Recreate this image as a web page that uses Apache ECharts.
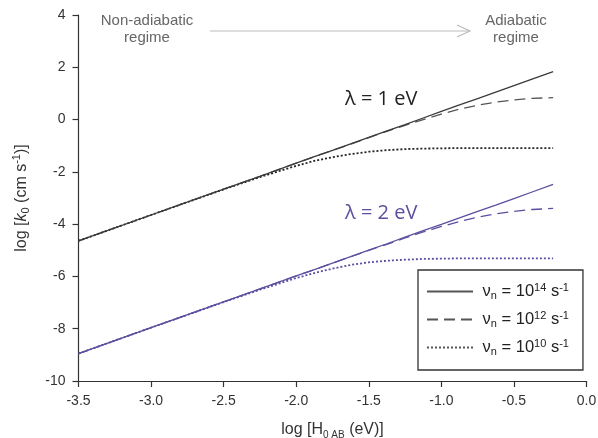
<!DOCTYPE html>
<html>
<head>
<meta charset="utf-8">
<script src="https://cdn.jsdelivr.net/npm/echarts@6/dist/echarts.min.js"></script>
<style>
  html, body { margin: 0; padding: 0; background: #fff; }
  #chart { width: 598px; height: 438px; }
</style>
</head>
<body>
<div id="chart"></div>
<script>
// log of electronic coupling, log [H0AB (eV)]
const logH = [-3.5, -3.0, -2.5, -2.25, -2.0, -1.875, -1.75, -1.625, -1.5, -1.375, -1.25,
              -1.125, -1.0, -0.875, -0.75, -0.625, -0.5, -0.375, -0.23];

// log k0 for reorganization energy λ = 1 eV, three nuclear frequencies
const lam1_nu14 = [-4.64, -3.65, -2.66, -2.17, -1.67, -1.42, -1.18, -0.93, -0.68, -0.43, -0.19,
                   0.06, 0.31, 0.56, 0.80, 1.05, 1.30, 1.55, 1.83];
const lam1_nu12 = [-4.64, -3.65, -2.66, -2.17, -1.67, -1.42, -1.18, -0.94, -0.69, -0.45, -0.22,
                   0.00, 0.21, 0.40, 0.55, 0.67, 0.75, 0.81, 0.84];
const lam1_nu10 = [-4.64, -3.65, -2.67, -2.20, -1.77, -1.58, -1.44, -1.32, -1.23, -1.17, -1.13,
                   -1.11, -1.10, -1.09, -1.09, -1.09, -1.09, -1.09, -1.09];

// log k0 for λ = 2 eV
const lam2_nu14 = [-8.95, -7.96, -6.97, -6.48, -5.98, -5.74, -5.49, -5.24, -4.99, -4.75, -4.50,
                   -4.25, -4.01, -3.76, -3.51, -3.27, -3.02, -2.77, -2.48];
const lam2_nu12 = [-8.95, -7.96, -6.97, -6.48, -5.98, -5.74, -5.49, -5.25, -5.00, -4.77, -4.53,
                   -4.30, -4.09, -3.90, -3.73, -3.61, -3.51, -3.44, -3.40];
const lam2_nu10 = [-8.95, -7.96, -6.98, -6.51, -6.06, -5.87, -5.70, -5.56, -5.46, -5.40, -5.36,
                   -5.33, -5.32, -5.31, -5.31, -5.31, -5.31, -5.31, -5.31];

// axis ticks
const xTicks = [-3.5, -3.0, -2.5, -2.0, -1.5, -1.0, -0.5, 0.0];
const yTicks = [-10, -8, -6, -4, -2, 0, 2, 4];

// nuclear frequency exponents (ν_n = 10^x s^-1)
const nuExponents = ['14', '12', '10'];

const FONT = 'Liberation Sans, Arial, sans-serif';
const DARK = '#3a3a3a';
const PURPLE = '#5b4f9f';

const pairs = ys => logH.map((x, i) => [x, ys[i]]);

const dashStyles = ['solid', [11, 6], [2, 2]];
const widths = [1.3, 1.3, 1.8];

function makeSeries(name, ys, color, idx) {
  return {
    type: 'line',
    name: name,
    data: pairs(ys),
    smooth: false,
    showSymbol: false,
    symbol: 'none',
    lineStyle: { color: color, width: widths[idx], type: dashStyles[idx] },
    itemStyle: { color: color },
    z: 3 - idx
  };
}

const names = nuExponents.map(e => 'nu' + e);

const series = [
  makeSeries(names[0], lam1_nu14, DARK, 0),
  makeSeries(names[1], lam1_nu12, '#555', 1),
  makeSeries(names[2], lam1_nu10, '#222', 2),
  makeSeries(names[0], lam2_nu14, PURPLE, 0),
  makeSeries(names[1], lam2_nu12, PURPLE, 1),
  makeSeries(names[2], lam2_nu10, PURPLE, 2)
];

const chart = echarts.init(document.getElementById('chart'), null, { renderer: 'canvas' });

chart.setOption({
  backgroundColor: '#ffffff',
  animation: false,
  grid: { left: 78.5, right: 11.5, top: 15, bottom: 57, containLabel: false, outerBoundsMode: 'none' },
  xAxis: {
    type: 'value',
    min: xTicks[0],
    max: xTicks[xTicks.length - 1],
    interval: 0.5,
    splitLine: { show: false },
    axisLine: { show: true, onZero: false, lineStyle: { color: '#333', width: 1.2 } },
    axisTick: { show: true, inside: false, length: 6, lineStyle: { color: '#333', width: 1.2 } },
    axisLabel: {
      formatter: v => v.toFixed(1),
      fontFamily: FONT, fontSize: 14, color: '#333', margin: 13
    },
    name: '{t|log [H}{sub|0 AB}{t| (eV)]}',
    nameLocation: 'middle',
    nameGap: 39,
    nameTextStyle: {
      rich: {
        t: { fontFamily: FONT, fontSize: 16, color: '#333', lineHeight: 20, verticalAlign: 'middle' },
        sub: { fontFamily: FONT, fontSize: 10, color: '#333', lineHeight: 20, verticalAlign: 'bottom' }
      }
    }
  },
  yAxis: {
    type: 'value',
    min: yTicks[0],
    max: yTicks[yTicks.length - 1],
    interval: 2,
    splitLine: { show: false },
    axisLine: { show: true, onZero: false, lineStyle: { color: '#333', width: 1.2 } },
    axisTick: { show: true, inside: false, length: 6, lineStyle: { color: '#333', width: 1.2 } },
    axisLabel: { fontFamily: FONT, fontSize: 14, color: '#333', margin: 13 },
    name: '{t|log [}{i|k}{sub|0}{t| (cm s}{sup|-1}{t|)]}',
    nameLocation: 'middle',
    nameRotate: 90,
    nameGap: 47,
    nameTextStyle: {
      rich: {
        t: { fontFamily: FONT, fontSize: 16, color: '#333', lineHeight: 20, verticalAlign: 'middle' },
        i: { fontFamily: FONT, fontSize: 16, fontStyle: 'italic', color: '#333', lineHeight: 20, verticalAlign: 'middle' },
        sub: { fontFamily: FONT, fontSize: 11, color: '#333', lineHeight: 20, verticalAlign: 'bottom' },
        sup: { fontFamily: FONT, fontSize: 11, color: '#333', lineHeight: 20, verticalAlign: 'top' }
      }
    }
  },
  legend: {
    data: names,
    orient: 'vertical',
    left: 418,
    top: 270,
    padding: [12, 14, 13, 8],
    itemGap: 9,
    itemWidth: 46,
    itemHeight: 14,
    borderColor: '#333',
    borderWidth: 1.3,
    backgroundColor: '#fff',
    selectedMode: false,
    itemStyle: { opacity: 0 },
    lineStyle: { color: '#555' },
    formatter: function (name) {
      const e = name.replace('nu', '');
      return '{t| ν}{sub|n}{t| = 10}{sup|' + e + '}{t| s}{sup|-1}';
    },
    textStyle: {
      rich: {
        t: { fontFamily: FONT, fontSize: 16.5, color: '#222', lineHeight: 19, verticalAlign: 'middle' },
        sub: { fontFamily: FONT, fontSize: 11, color: '#222', lineHeight: 19, verticalAlign: 'bottom' },
        sup: { fontFamily: FONT, fontSize: 11, color: '#222', lineHeight: 19, verticalAlign: 'top' }
      }
    }
  },
  graphic: [
    {
      type: 'text', x: 147, y: 12, z: 10,
      style: { text: 'Non-adiabatic\nregime', align: 'center', fill: '#666', font: '15px ' + FONT, lineHeight: 17 }
    },
    {
      type: 'text', x: 516, y: 12, z: 10,
      style: { text: 'Adiabatic\nregime', align: 'center', fill: '#666', font: '15px ' + FONT, lineHeight: 17 }
    },
    {
      type: 'polyline', z: 10,
      shape: { points: [[210, 31], [470, 31]] },
      style: { stroke: '#bbb', lineWidth: 1.2, fill: null }
    },
    {
      type: 'polyline', z: 10,
      shape: { points: [[457, 25], [470, 31], [457, 37]] },
      style: { stroke: '#bbb', lineWidth: 1.2, fill: null }
    },
    {
      type: 'text', x: 345, y: 89, z: 10,
      style: { text: 'λ = 1 eV', fill: '#222', font: '20px "Open Sans", Lato, sans-serif' }
    },
    {
      type: 'text', x: 345, y: 203, z: 10,
      style: { text: 'λ = 2 eV', fill: PURPLE, font: '20px "Open Sans", Lato, sans-serif' }
    }
  ],
  series: series
});
</script>
</body>
</html>
